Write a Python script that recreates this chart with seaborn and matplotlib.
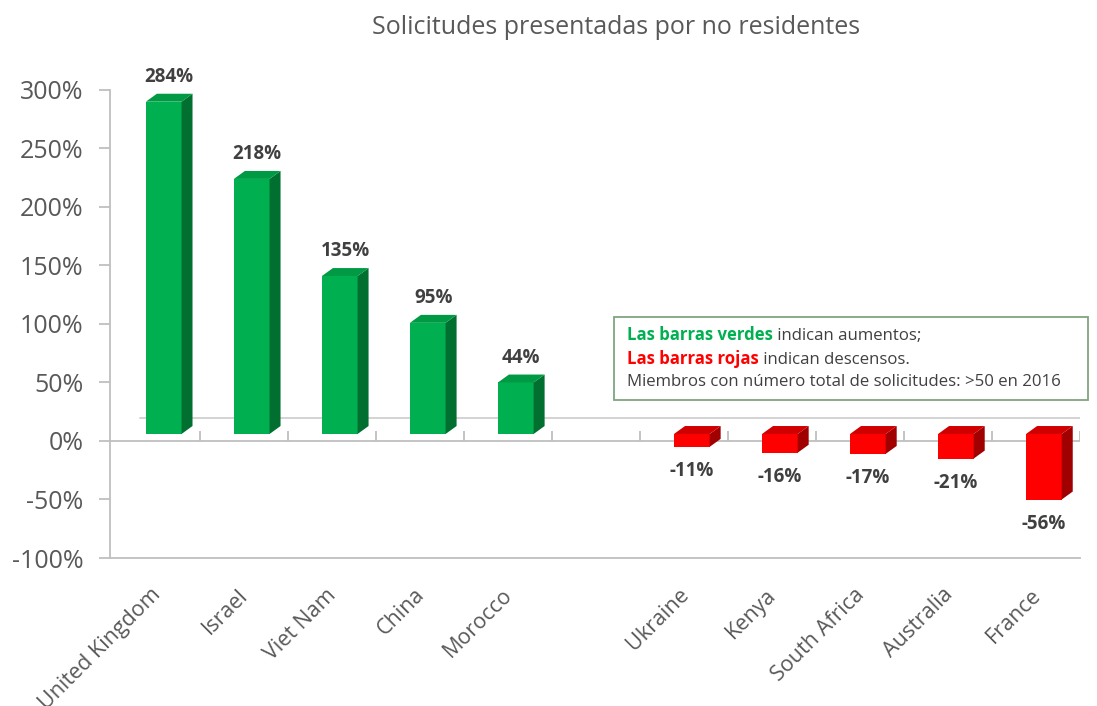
import numpy as np
import pandas as pd
import matplotlib
matplotlib.use("Agg")
import matplotlib.pyplot as plt
from matplotlib.patches import Polygon, Rectangle
from matplotlib.transforms import ScaledTranslation
import seaborn as sns

# ---------------- data ----------------
categories = ["United Kingdom", "Israel", "Viet Nam", "China", "Morocco", "",
              "Ukraine", "Kenya", "South Africa", "Australia", "France"]
countries = ["United Kingdom", "Israel", "Viet Nam", "China", "Morocco",
             "Ukraine", "Kenya", "South Africa", "Australia", "France"]
growth_pct = [284, 218, 135, 95, 44, -11, -16, -17, -21, -56]
y_ticks = [-100, -50, 0, 50, 100, 150, 200, 250, 300]
title = "Solicitudes presentadas por no residentes"
note_green = "Las barras verdes"
note_green_rest = " indican aumentos;"
note_red = "Las barras rojas"
note_red_rest = " indican descensos."
note_line3 = "Miembros con número total de solicitudes: >50 en 2016"

# ---------------- style ----------------
GREEN = "#00B050"; GREEN_SIDE = "#006F2F"; GREEN_TOP = "#009A44"
RED = "#FF0000"; RED_SIDE = "#A00000"; RED_TOP = "#D00000"
GRAY_TXT = "#595959"; LABEL_TXT = "#404040"; AXIS = "#BFBFBF"
FLOOR_LIFT = 6.0      # front face raised above the 0 line (3D floor)
DEPTH_X = 0.125       # 3D depth in category units
DEPTH_Y = 6.8         # 3D depth in value units
BAR_SHIFT = 0.09

sns.set_theme(style="white")
plt.rcParams["font.family"] = ["Open Sans", "DejaVu Sans"]

df = pd.DataFrame({"country": countries, "value": growth_pct})
palette = {c: (GREEN if v >= 0 else RED) for c, v in zip(countries, growth_pct)}

fig = plt.figure(figsize=(10.97, 7.06), dpi=100)
ax = fig.add_axes([110 / 1097, 1 - 558 / 706, 970 / 1097, 468 / 706])

sns.barplot(data=df, x="country", y="value", hue="country", order=categories,
            palette=palette, width=0.405, legend=False, ax=ax,
            saturation=1, linewidth=0, zorder=3)

ax.set_xlim(-0.52, 10.5)
ax.set_ylim(-100, 300)

# 3D faces built from the seaborn bars
for p in list(ax.patches):
    h = p.get_height()
    if np.isnan(h):
        continue
    p.set_x(p.get_x() + BAR_SHIFT)
    p.set_y(p.get_y() + FLOOR_LIFT)
    x0 = p.get_x(); x1 = x0 + p.get_width()
    ylo = min(p.get_y(), p.get_y() + h); yhi = max(p.get_y(), p.get_y() + h)
    pos = h >= 0
    side = Polygon([(x1, ylo), (x1 + DEPTH_X, ylo + DEPTH_Y),
                    (x1 + DEPTH_X, yhi + DEPTH_Y), (x1, yhi)], closed=True,
                   facecolor=GREEN_SIDE if pos else RED_SIDE, edgecolor="none", zorder=3)
    top = Polygon([(x0, yhi), (x0 + DEPTH_X, yhi + DEPTH_Y),
                   (x1 + DEPTH_X, yhi + DEPTH_Y), (x1, yhi)], closed=True,
                  facecolor=GREEN_TOP if pos else RED_TOP, edgecolor="none", zorder=3)
    ax.add_patch(side); ax.add_patch(top)
    cx = (x0 + x1 + DEPTH_X) / 2
    if pos:
        ax.text(cx, yhi + DEPTH_Y + 6, f"{h:.0f}%", ha="center", va="bottom",
                fontsize=13.5, fontweight="bold", color=LABEL_TXT, zorder=5)
    else:
        ax.text(cx - DEPTH_X / 2, ylo - 12, f"{h:.0f}%", ha="center", va="top",
                fontsize=13.5, fontweight="bold", color=LABEL_TXT, zorder=5)

# axis lines: front floor (0), back floor, category ticks
ax.axhline(0, color=AXIS, lw=1.3, zorder=1)
ax.plot([-0.18, 10.5], [19.7, 19.7], color="#D0D0D0", lw=1.3, zorder=1)
ax.vlines([k + 0.5 for k in range(len(categories))], 0, 8.5, color=AXIS, lw=1.3, zorder=1)

# spines and ticks
for s in ["top", "right"]:
    ax.spines[s].set_visible(False)
for s in ["left", "bottom"]:
    ax.spines[s].set_color(AXIS)
    ax.spines[s].set_linewidth(1.3)
ax.set_yticks(y_ticks)
ax.set_yticklabels([f"{v}%" for v in y_ticks], fontsize=18, color=GRAY_TXT)
ax.tick_params(axis="y", length=8, color=AXIS, width=1.3, pad=11, left=True)
ax.set_xticks(range(len(categories)))
ax.set_xticklabels(categories, rotation=45, ha="right", rotation_mode="anchor",
                   fontsize=15.5, color=GRAY_TXT)
ax.tick_params(axis="x", length=0, pad=19)
shift = ScaledTranslation(-0.06, 0, fig.dpi_scale_trans)
for lab in ax.get_xticklabels():
    lab.set_transform(lab.get_transform() + shift)
ax.set_xlabel(""); ax.set_ylabel("")
ax.grid(False)

fig.text(616 / 1097, 1 - 27 / 706, title, ha="center", va="center",
         fontsize=18, color=GRAY_TXT)

# note box
box = Rectangle((614 / 1097, 1 - 400 / 706), (1088 - 614) / 1097, (400 - 317) / 706,
                transform=fig.transFigure, facecolor="white", edgecolor="#7FA57F",
                lw=1.3, zorder=6)
fig.add_artist(box)
fs = 12.1
t1 = fig.text(627 / 1097, 1 - 335 / 706, note_green, color=GREEN, fontweight="bold",
              fontsize=fs, va="center", ha="left", zorder=7)
fig.add_artist(matplotlib.text.Annotation(note_green_rest, xy=(1, 0), xycoords=t1,
               va="bottom", ha="left", fontsize=fs, color=LABEL_TXT, zorder=7))
t2 = fig.text(627 / 1097, 1 - 359 / 706, note_red, color=RED, fontweight="bold",
              fontsize=fs, va="center", ha="left", zorder=7)
fig.add_artist(matplotlib.text.Annotation(note_red_rest, xy=(1, 0), xycoords=t2,
               va="bottom", ha="left", fontsize=fs, color=LABEL_TXT, zorder=7))
fig.text(627 / 1097, 1 - 382 / 706, note_line3, color=LABEL_TXT,
         fontsize=fs, va="center", ha="left", zorder=7)

fig.savefig("out.png", dpi=100)
